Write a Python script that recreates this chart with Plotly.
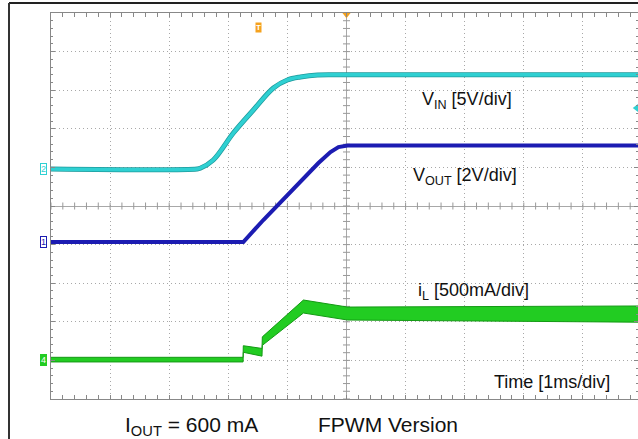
import numpy as np
import plotly.graph_objects as go

# ---------------- data (time in ms, 0 = trigger at screen centre) ----------------
vin_t = [-5.0, -2.53, -2.475, -2.254, -1.915, -1.576, -1.237, -1.0, -0.78, -0.49, 0.0, 4.95]
vin_v = [0.0, 0.0, 0.1, 1.17, 4.66, 7.64, 10.49, 11.53, 11.92, 12.18, 12.2, 12.2]

vout_t = [-5.0, -1.746, -1.407, -0.949, -0.475, -0.271, -0.136, 0.017, 4.95]
vout_v = [0.0, 0.0, 1.14, 2.61, 4.09, 4.66, 4.92, 5.0, 5.0]

il_t = [-5.0, -1.75, -1.746, -1.63, -1.46, -1.43, -1.424, -0.729, 0.017, 4.95]
il_hi = [0.035, 0.035, 0.185, 0.17, 0.15, 0.15, 0.30, 0.777, 0.686, 0.70]
il_lo = [-0.025, -0.025, 0.10, 0.08, 0.05, 0.05, 0.19, 0.609, 0.518, 0.49]

# channel ground positions (in screen divisions) and scales (per div)
vin_gnd, vin_scale = 0.9585, 5.0
vout_gnd, vout_scale = -0.9326, 2.0
il_gnd, il_scale = -3.99, 0.5

# ---------------- geometry ----------------
W, H = 638, 439
L, R, T, B = 51, 638, 13, 399
XDIV = 59.1
x_rng = [-5.0, -5.0 + (R - L) / XDIV]


def px(x):
    return (x - L) / (R - L)


def py(y):
    return (B - y) / (B - T)


def ch_range(gnd, scale):
    return [(-5 - gnd) * scale, (5 - gnd) * scale]


CYAN = "#2fd0d2"
BLUE = "#1c1cb2"
GREEN = "#22cc22"
GREEN_D = "#149a14"
ORANGE = "#f5a21e"
GRID = "#a8a8a8"

fig = go.Figure()

# centre cross ticks
tk = np.round(np.arange(-5, 5.001, 0.2), 3)
fig.add_trace(go.Scatter(x=tk, y=[0] * len(tk), mode="markers", xaxis="x", yaxis="y",
                         marker=dict(symbol="line-ns", size=5, line=dict(color="#999", width=1)),
                         hoverinfo="skip", showlegend=False))
fig.add_trace(go.Scatter(x=[0] * len(tk), y=tk, mode="markers", xaxis="x", yaxis="y",
                         marker=dict(symbol="line-ew", size=5, line=dict(color="#999", width=1)),
                         hoverinfo="skip", showlegend=False))

# iL band
fig.add_trace(go.Scatter(x=il_t, y=il_lo, mode="lines", yaxis="y4",
                         line=dict(color=GREEN_D, width=1), showlegend=False))
fig.add_trace(go.Scatter(x=il_t, y=il_hi, mode="lines", yaxis="y4", fill="tonexty",
                         fillcolor=GREEN, line=dict(color=GREEN_D, width=1), showlegend=False))
# VOUT
fig.add_trace(go.Scatter(x=vout_t, y=vout_v, mode="lines", yaxis="y3",
                         line=dict(color=BLUE, width=4), showlegend=False))
# VIN
fig.add_trace(go.Scatter(x=vin_t, y=vin_v, mode="lines", yaxis="y2", line_shape="spline",
                         line=dict(color="#1f9a9c", width=5), showlegend=False))
fig.add_trace(go.Scatter(x=vin_t, y=vin_v, mode="lines", yaxis="y2", line_shape="spline",
                         line=dict(color=CYAN, width=3.5), showlegend=False))

# trigger markers
fig.add_trace(go.Scatter(x=[0], y=[4.97], mode="markers", yaxis="y", cliponaxis=False,
                         marker=dict(symbol="triangle-down", size=8, color=ORANGE),
                         hoverinfo="skip", showlegend=False))
fig.add_trace(go.Scatter(x=[x_rng[1] - 0.03], y=[(206 - 108) / 38.6], mode="markers", yaxis="y",
                         cliponaxis=False,
                         marker=dict(symbol="triangle-left", size=7, color=CYAN),
                         hoverinfo="skip", showlegend=False))

ax_common = dict(showticklabels=False, showline=True, linecolor="#888", linewidth=1,
                 mirror="allticks", ticks="inside", ticklen=4, tickcolor="#888",
                 showgrid=True, gridcolor=GRID, griddash="1px,3px", gridwidth=1,
                 zeroline=True, zerolinecolor="#a8a8a8", zerolinewidth=1)

fig.update_layout(
    width=W, height=H,
    margin=dict(l=L, r=W - R, t=T, b=H - B),
    paper_bgcolor="white", plot_bgcolor="white",
    font=dict(family="Liberation Sans, Arial, sans-serif", color="#111"),
    xaxis=dict(range=x_rng, dtick=1, minor=dict(ticks="inside", dtick=0.2, ticklen=2,
                                                tickcolor="#888"), **ax_common),
    yaxis=dict(range=[-5, 5], dtick=1, minor=dict(ticks="inside", dtick=0.2, ticklen=2,
                                                  tickcolor="#888"), **ax_common),
    yaxis2=dict(range=ch_range(vin_gnd, vin_scale), overlaying="y", visible=False),
    yaxis3=dict(range=ch_range(vout_gnd, vout_scale), overlaying="y", visible=False),
    yaxis4=dict(range=ch_range(il_gnd, il_scale), overlaying="y", visible=False),
    showlegend=False,
)

# outer frame
fig.add_shape(type="line", xref="paper", yref="paper", x0=px(9), x1=px(700), y0=py(3), y1=py(3),
              line=dict(color="#222", width=2))
fig.add_shape(type="line", xref="paper", yref="paper", x0=px(9), x1=px(9), y0=py(3), y1=py(460),
              line=dict(color="#333", width=2))


def label(text, x, y, size, **kw):
    fig.add_annotation(text=text, xref="paper", yref="paper", x=px(x), y=py(y),
                       xanchor="center", yanchor="middle", showarrow=False,
                       font=dict(size=size, color="#111"), **kw)


label("V<sub>IN</sub> [5V/div]", 467, 100, 18)
label("V<sub>OUT</sub> [2V/div]", 465, 177, 18)
label("i<sub>L</sub> [500mA/div]", 473, 291, 18)
label("Time [1ms/div]", 552, 382, 18)
label("I<sub>OUT</sub> = 600 mA", 191, 426, 21)
label("FPWM Version", 388, 424, 21)

# channel ground markers
for txt, gnd, col, bg, fc in [("2", vin_gnd, CYAN, "white", CYAN),
                               ("1", vout_gnd, BLUE, "white", BLUE),
                               ("4", il_gnd, GREEN, GREEN, "white")]:
    fig.add_annotation(text=txt, xref="paper", yref="y", x=px(43), y=gnd, xanchor="center",
                       yanchor="middle", showarrow=False, bgcolor=bg, bordercolor=col,
                       borderwidth=1, borderpad=0, font=dict(size=9, color=fc))

# T marker
fig.add_annotation(text="<b>T</b>", xref="paper", yref="paper", x=px(258), y=py(22),
                   showarrow=False, bgcolor=ORANGE, borderpad=0, font=dict(size=8, color="white"))

fig.write_html("out.html", config={"displayModeBar": False},
               post_script="document.body.style.margin='0px';"
                           "document.body.style.overflow='hidden';")
